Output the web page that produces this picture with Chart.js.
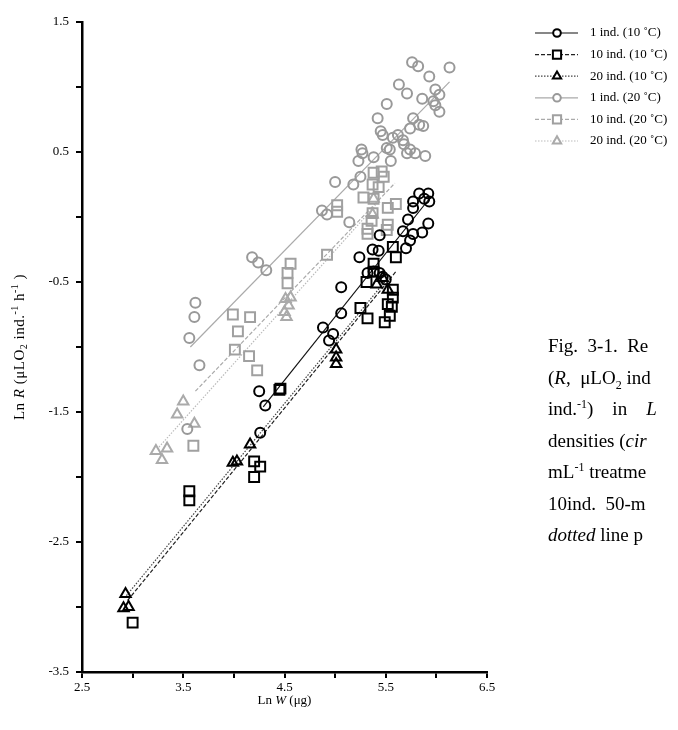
<!DOCTYPE html>
<html>
<head>
<meta charset="utf-8">
<script src="https://cdn.jsdelivr.net/npm/chart.js@4.4.0/dist/chart.umd.min.js"></script>
<style>
body { margin:0; width:678px; height:730px; overflow:hidden; background:#fff; position:relative; }
#c { position:absolute; left:0; top:0; }
#caption { position:absolute; left:548px; top:330px; font-family:"Liberation Serif", serif; font-size:19px; line-height:31.5px; white-space:nowrap; color:#000; }
#caption sup, #caption sub { font-size:12px; line-height:0; }
</style>
</head>
<body>
<canvas id="c" width="678" height="730"></canvas>
<div id="caption">
<div>Fig.&nbsp; 3-1.&nbsp; Re</div>
<div>(<i>R</i>,&nbsp; μLO<sub>2</sub> ind</div>
<div>ind.<sup>-1</sup>)&nbsp;&nbsp;&nbsp; in&nbsp;&nbsp;&nbsp; <i>L</i></div>
<div>densities (<i>cir</i></div>
<div>mL<sup>-1</sup> treatme</div>
<div>10ind.&nbsp; 50-m</div>
<div><i>dotted</i> line p</div>
</div>
<script>
var xTicks = [2.5, 3.5, 4.5, 5.5, 6.5];
var yTicks = [-3.5, -2.5, -1.5, -0.5, 0.5, 1.5];

var seriesNames = ['1 ind. (10 \u02DAC)', '10 ind. (10 \u02DAC)', '20 ind. (10 \u02DAC)',
                   '1 ind. (20 \u02DAC)', '10 ind. (20 \u02DAC)', '20 ind. (20 \u02DAC)'];

// Ln W (x) and Ln R (y) for each group
var lnW_1ind10 = [4.25,4.31,4.26,4.88,4.98,4.94,5.06,5.06,5.24,5.32,5.37,5.38,5.43,5.44,5.44,5.47,5.50,5.67,5.70,5.72,5.74,5.77,5.77,5.77,5.83,5.88,5.92,5.93,5.92,5.86];
var lnR_1ind10 = [-1.34,-1.45,-1.66,-0.85,-0.90,-0.95,-0.54,-0.74,-0.31,-0.43,-0.25,-0.42,-0.26,-0.14,-0.43,-0.46,-0.48,-0.11,-0.24,-0.02,-0.18,-0.13,0.07,0.12,0.18,0.14,0.18,0.12,-0.05,-0.12];

var lnW_10ind10 = [3.00,3.56,3.56,4.20,4.26,4.20,4.46,4.45,5.25,5.32,5.31,5.38,5.38,5.57,5.60,5.57,5.57,5.52,5.56,5.54,5.49];
var lnR_10ind10 = [-3.12,-2.11,-2.18,-1.88,-1.92,-2.00,-1.32,-1.33,-0.70,-0.78,-0.50,-0.36,-0.42,-0.23,-0.31,-0.56,-0.62,-0.67,-0.69,-0.76,-0.81];

var lnW_20ind10 = [2.93,2.91,2.96,3.99,4.03,4.16,5.01,5.01,5.01,5.41,5.47,5.52];
var lnR_20ind10 = [-2.90,-3.01,-3.00,-1.89,-1.88,-1.75,-1.02,-1.08,-1.13,-0.52,-0.47,-0.56];

var lnW_1ind20 = [3.56,3.61,3.62,3.66,3.54,4.18,4.24,4.32,4.87,4.92,5.14,5.00,5.18,5.25,5.23,5.26,5.27,5.38,5.55,5.51,5.54,5.42,5.45,5.47,5.57,5.62,5.67,5.68,5.51,5.74,5.71,5.79,5.89,5.74,5.77,5.83,5.87,5.63,5.71,5.86,5.97,5.99,6.03,5.99,6.03,5.76,5.82,5.93,6.13];
var lnR_1ind20 = [-0.93,-0.77,-0.66,-1.14,-1.63,-0.31,-0.35,-0.41,0.05,0.02,-0.04,0.27,0.25,0.31,0.43,0.52,0.49,0.46,0.43,0.53,0.52,0.76,0.66,0.63,0.61,0.63,0.59,0.56,0.87,0.52,0.49,0.49,0.47,0.68,0.76,0.71,0.70,1.02,0.95,0.91,0.89,0.98,0.94,0.86,0.81,1.19,1.16,1.08,1.15];

var lnW_10ind20 = [3.60,3.99,4.16,4.04,4.01,4.15,4.23,4.56,4.53,4.53,4.92,5.02,5.02,5.28,5.38,5.37,5.36,5.32,5.32,5.52,5.60,5.52,5.51,5.37,5.43,5.38,5.46,5.48];
var lnR_10ind20 = [-1.76,-0.75,-0.77,-0.88,-1.02,-1.07,-1.18,-0.36,-0.43,-0.51,-0.29,0.09,0.04,0.15,0.14,0.03,-0.03,-0.09,-0.13,0.07,0.10,-0.06,-0.10,0.25,0.23,0.34,0.35,0.31];

var lnW_20ind20 = [3.23,3.34,3.29,3.44,3.50,3.61,4.50,4.51,4.56,4.54,4.52,5.38,5.37];
var lnR_20ind20 = [-1.80,-1.78,-1.87,-1.52,-1.42,-1.59,-0.73,-0.63,-0.62,-0.68,-0.77,0.14,0.02];

// regression lines, [x0, y0, x1, y1]
var fit_1ind10  = [4.29, -1.46, 5.94, 0.15];
var fit_10ind10 = [2.95, -2.95, 5.60, -0.42];
var fit_20ind10 = [2.92, -2.93, 5.52, -0.47];
var fit_1ind20  = [3.57, -1.00, 6.13, 1.04];
var fit_10ind20 = [3.62, -1.34, 5.59, 0.26];
var fit_20ind20 = [3.26, -1.77, 5.40, 0.09];

var groups = [
  { w: lnW_1ind10,  r: lnR_1ind10,  fit: fit_1ind10,  shape: 'circle',   rad: 5, color: '#000', line: '#111', dash: [] },
  { w: lnW_10ind10, r: lnR_10ind10, fit: fit_10ind10, shape: 'rect',     rad: 7, color: '#000', line: '#222', dash: [4, 2] },
  { w: lnW_20ind10, r: lnR_20ind10, fit: fit_20ind10, shape: 'triangle', rad: 6, color: '#000', line: '#444', dash: [1.5, 1.5] },
  { w: lnW_1ind20,  r: lnR_1ind20,  fit: fit_1ind20,  shape: 'circle',   rad: 5, color: '#999', line: '#aaa', dash: [] },
  { w: lnW_10ind20, r: lnR_10ind20, fit: fit_10ind20, shape: 'rect',     rad: 7, color: '#a0a0a0', line: '#aaa', dash: [4, 2] },
  { w: lnW_20ind20, r: lnR_20ind20, fit: fit_20ind20, shape: 'triangle', rad: 6, color: '#aaa', line: '#bbb', dash: [1.5, 1.5] }
];

var datasets = [];
groups.forEach(function (g, i) {
  datasets.push({
    label: seriesNames[i],
    data: g.w.map(function (x, k) { return { x: x, y: g.r[k] }; }),
    pointStyle: g.shape,
    pointRadius: g.rad,
    pointBorderWidth: 2,
    pointBorderColor: g.color,
    pointBackgroundColor: 'rgba(255,255,255,0)',
    showLine: false
  });
});
groups.forEach(function (g, i) {
  datasets.push({
    label: seriesNames[i] + ' fit',
    data: [{ x: g.fit[0], y: g.fit[1] }, { x: g.fit[2], y: g.fit[3] }],
    showLine: true,
    borderColor: g.line,
    borderWidth: 1.2,
    borderDash: g.dash,
    pointRadius: 0
  });
});

var serif = '"Liberation Serif", serif';

function drawRich(ctx, parts, cx, cy) {
  var total = 0;
  parts.forEach(function (p) {
    ctx.font = p.f;
    p.w = ctx.measureText(p.t).width;
    total += p.w;
  });
  var x = cx - total / 2;
  parts.forEach(function (p) {
    ctx.font = p.f;
    ctx.fillText(p.t, x, cy + (p.dy || 0));
    x += p.w;
  });
}

var extras = {
  id: 'extras',
  afterDraw: function (chart) {
    var ctx = chart.ctx;
    var area = chart.chartArea;
    ctx.save();
    ctx.fillStyle = '#000';
    ctx.textBaseline = 'middle';
    ctx.textAlign = 'left';
    var n = '13px ' + serif, it = 'italic 13px ' + serif;
    // x title
    drawRich(ctx, [{ t: 'Ln ', f: n }, { t: 'W', f: it }, { t: ' (\u03BCg)', f: n }],
      (area.left + area.right) / 2, 701);
    // y title
    var n2 = '15px ' + serif, it2 = 'italic 15px ' + serif, sm2 = '10px ' + serif;
    ctx.save();
    ctx.translate(20, (area.top + area.bottom) / 2);
    ctx.rotate(-Math.PI / 2);
    ctx.letterSpacing = '0.5px';
    drawRich(ctx, [{ t: 'Ln ', f: n2 }, { t: 'R', f: it2 }, { t: ' (\u03BCLO', f: n2 }, { t: '2', f: sm2, dy: 4 },
      { t: ' ind.', f: n2 }, { t: '-1', f: sm2, dy: -5 }, { t: ' h', f: n2 }, { t: '-1', f: sm2, dy: -5 }, { t: ' )', f: n2 }], 0, 0);
    ctx.restore();
    // legend
    groups.forEach(function (g, i) {
      var y = 33 + i * 21.6;
      ctx.save();
      ctx.strokeStyle = g.line;
      ctx.lineWidth = 1.2;
      ctx.setLineDash(g.dash);
      ctx.beginPath();
      ctx.moveTo(535, y);
      ctx.lineTo(578, y);
      ctx.stroke();
      ctx.setLineDash([]);
      ctx.strokeStyle = g.color;
      ctx.fillStyle = '#fff';
      ctx.lineWidth = 2;
      Chart.helpers.drawPoint(ctx, { pointStyle: g.shape, radius: g.rad - 1.2, rotation: 0, borderWidth: 2 }, 557, y);
      ctx.restore();
      ctx.font = n;
      ctx.fillStyle = '#000';
      ctx.fillText(seriesNames[i], 590, y);
    });
    ctx.restore();
  }
};

function tickLabel(list) {
  return function (v) {
    for (var i = 0; i < list.length; i++) {
      if (Math.abs(list[i] - v) < 1e-6) return list[i].toFixed(1);
    }
    return '';
  };
}

new Chart(document.getElementById('c'), {
  type: 'scatter',
  data: { datasets: datasets },
  options: {
    responsive: false,
    animation: false,
    layout: { padding: { left: 0, top: 22, right: 191, bottom: 0 } },
    plugins: { legend: { display: false }, tooltip: { enabled: false } },
    scales: {
      x: {
        type: 'linear', min: 2.5, max: 6.5,
        afterFit: function (s) { s.height = 58; },
        ticks: { stepSize: 0.5, autoSkip: false, maxRotation: 0, padding: 2, color: '#000',
                 font: { family: serif, size: 13 }, callback: tickLabel(xTicks) },
        grid: { drawOnChartArea: false, drawTicks: true, tickLength: 6, color: '#000', lineWidth: 2 },
        border: { display: true, color: '#000', width: 2.5 }
      },
      y: {
        type: 'linear', min: -3.5, max: 1.5,
        afterFit: function (s) { s.width = 82; },
        ticks: { stepSize: 0.5, autoSkip: false, padding: 7, color: '#000',
                 font: { family: serif, size: 13 }, callback: tickLabel(yTicks) },
        grid: { drawOnChartArea: false, drawTicks: true, tickLength: 6, color: '#000', lineWidth: 2 },
        border: { display: true, color: '#000', width: 2.5 }
      }
    }
  },
  plugins: [extras]
});
</script>
</body>
</html>
